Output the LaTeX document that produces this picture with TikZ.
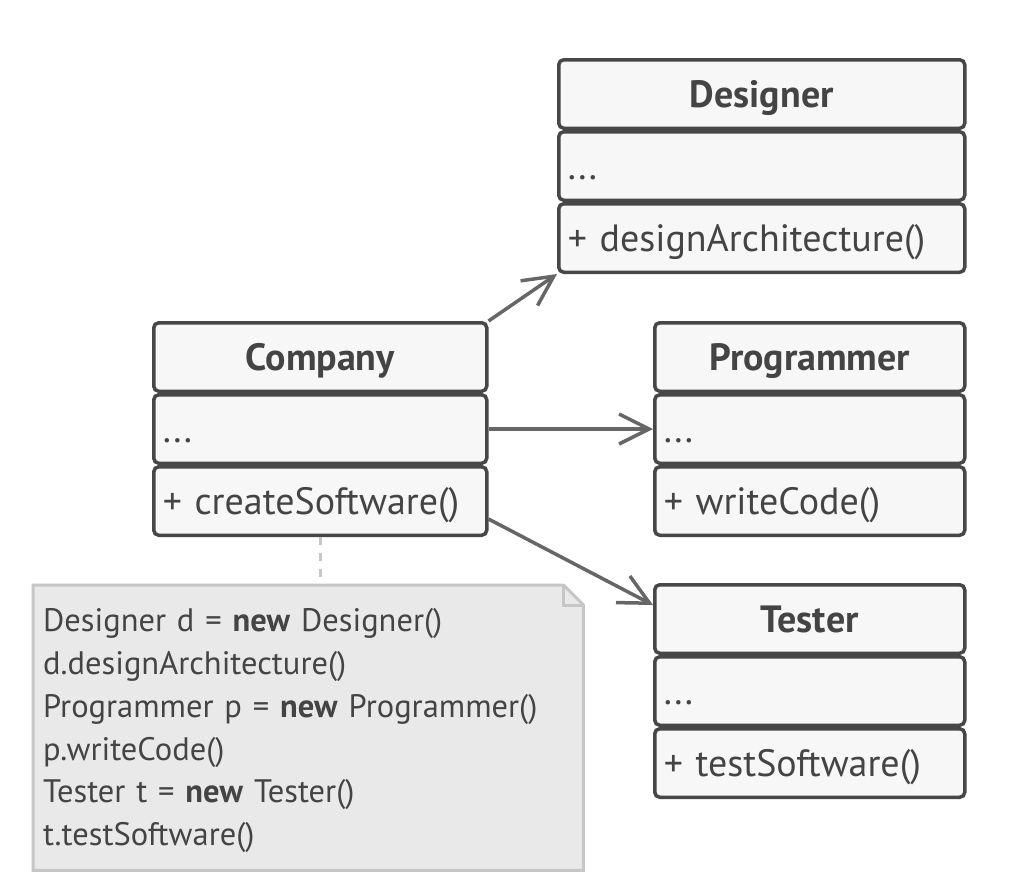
\documentclass[tikz,border=0pt]{standalone}
\usepackage{fontspec}
\setmainfont{PT Sans}
\usetikzlibrary{arrows.meta,positioning,backgrounds}
\definecolor{classline}{HTML}{474747}
\definecolor{classfill}{HTML}{F7F7F7}
\definecolor{classtext}{HTML}{444444}
\definecolor{arrowline}{HTML}{666666}
\definecolor{notefill}{HTML}{E9E9E9}
\definecolor{noteline}{HTML}{C6C6C6}

\tikzset{
	compart/.style={draw=classline, fill=classfill, line width=3.5pt, rounded corners=5pt,
		minimum height=68.5pt, inner xsep=9pt, inner ysep=0pt, align=left, text=classtext,
		text height=36pt, text depth=9pt, font=\fontsize{38}{44}\selectfont},
	classtitle/.style={compart, align=center, font=\fontsize{38}{44}\selectfont\bfseries},
	uses/.style={draw=arrowline, line width=3.5pt, -{Straight Barb[length=30pt,width=30pt]}},
	notelink/.style={draw=noteline, line width=3pt, dash pattern=on 8pt off 8pt},
	notebox/.style={draw=noteline, fill=notefill, line width=3pt}
}

\begin{document}
\begin{tikzpicture}[x=1pt, y=-1pt]
	\useasboundingbox (0,0) rectangle (1016,886);

	% Designer
	\node [classtitle, text width=388pt, anchor=north west] (de-title) at (557,58) {Designer};
	\node [compart, text width=388pt, below=0pt of de-title] (de-attr) {...};
	\node [compart, text width=388pt, below=0pt of de-attr] (de-meth) {+ designArchitecture()};

	% Company
	\node [classtitle, text width=315pt, anchor=north west] (co-title) at (152,321) {Company};
	\node [compart, text width=315pt, below=0pt of co-title] (co-attr) {...};
	\node [compart, text width=315pt, below=0pt of co-attr] (co-meth) {+ createSoftware()};

	% Programmer
	\node [classtitle, text width=292pt, anchor=north west] (pr-title) at (653,321) {Programmer};
	\node [compart, text width=292pt, below=0pt of pr-title] (pr-attr) {...};
	\node [compart, text width=292pt, below=0pt of pr-attr] (pr-meth) {+ writeCode()};

	% Tester
	\node [classtitle, text width=292pt, anchor=north west] (te-title) at (653,583) {Tester};
	\node [compart, text width=292pt, below=0pt of te-title] (te-attr) {...};
	\node [compart, text width=292pt, below=0pt of te-attr] (te-meth) {+ testSoftware()};

	% Note with the body of createSoftware()
	\node [anchor=north west, minimum width=550pt, minimum height=285pt, text width=530pt,
		inner xsep=10pt, align=left, text=classtext, font=\fontsize{32.5}{42.8}\selectfont] (note) at (33,588)
		{Designer d = \textbf{new} Designer()\\
		d.designArchitecture()\\
		Programmer p = \textbf{new} Programmer()\\
		p.writeCode()\\
		Tester t = \textbf{new} Tester()\\
		t.testSoftware()};
	\begin{scope}[on background layer]
		\draw [notebox] ([yshift=3pt]note.north west) -- ([xshift=-20pt, yshift=3pt]note.north east)
			-- ([yshift=-17pt]note.north east) -- ([yshift=3pt]note.south east) -- ([yshift=3pt]note.south west) -- cycle;
		\draw [noteline, line width=3pt] ([xshift=-20pt, yshift=3pt]note.north east)
			-- ([xshift=-20pt, yshift=-17pt]note.north east) -- ([yshift=-17pt]note.north east);
	\end{scope}
	\draw [notelink] (co-meth.south) -- ([yshift=3pt]co-meth.south |- note.north);

	% Associations
	\draw [uses] (co-title.north east) -- (de-meth.south west);
	\draw [uses] (co-attr.east) -- (pr-attr.west);
	\draw [uses] ([yshift=-18pt]co-meth.east) -- ([yshift=14pt]te-title.west);
\end{tikzpicture}
\end{document}
